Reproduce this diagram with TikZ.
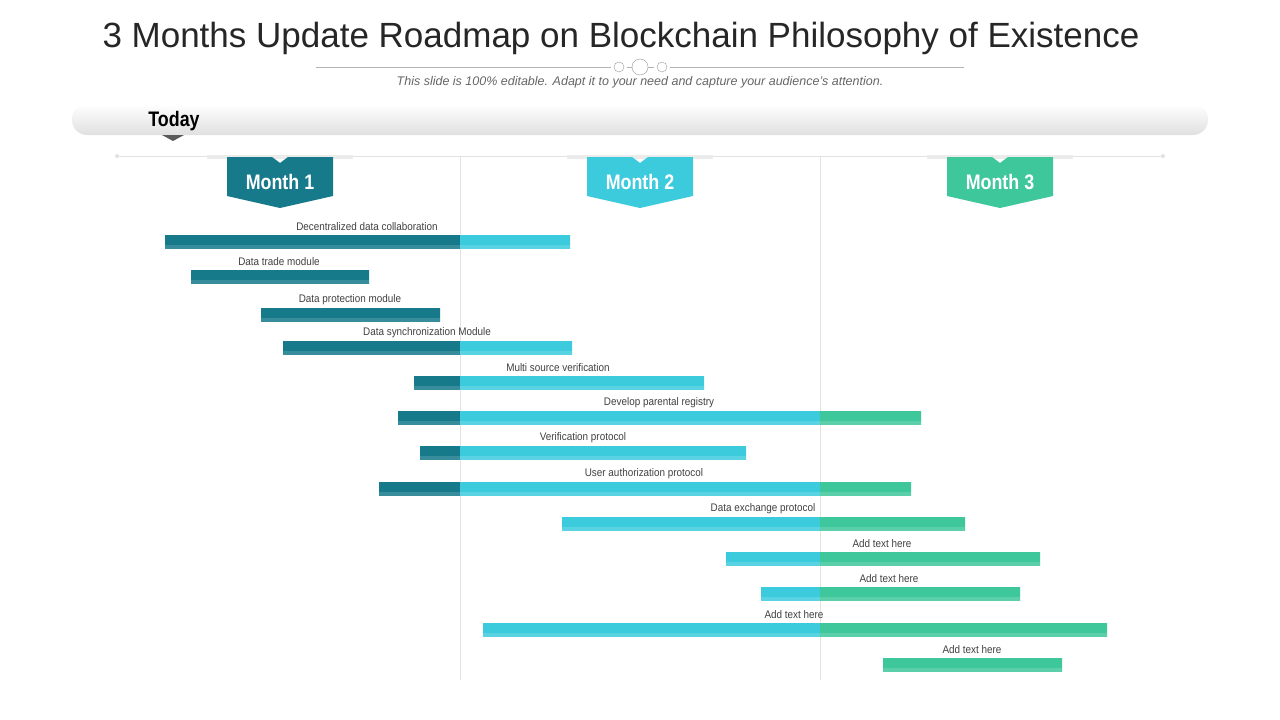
\documentclass[tikz,border=0pt]{standalone}
\usepackage{fontspec}
\setmainfont{Liberation Sans}
\definecolor{dk}{HTML}{167A8B}
\definecolor{cy}{HTML}{3CCBDD}
\definecolor{gr}{HTML}{3EC79A}
\definecolor{ln}{HTML}{E2E2E2}
\begin{document}
\begin{tikzpicture}[x=1pt,y=-1pt,
  lbl/.style={font=\fontsize{11}{12}\selectfont, text=black!75, inner sep=0pt},
  mtxt/.style={font=\bfseries\fontsize{21}{22}\selectfont, text=white, inner sep=0pt}]
\useasboundingbox (0,0) rectangle (1280,720);
\fill[white] (0,0) rectangle (1280,720);
\node[font=\fontsize{35}{40}\selectfont, text=black!85] (title) at (621,38) {3 Months Update Roadmap on Blockchain Philosophy of Existence};
\draw[black!30] (316,67) -- (611,67) (627,67) -- (632,67) (648,67) -- (654,67) (670,67) -- (964,67);
\draw[black!40] (619,67) circle (5) (640,67) circle (8) (662,67) circle (5);
\node[font=\itshape\fontsize{12.5}{14}\selectfont, text=black!60] (sub) at (640,82) {This slide is 100\% editable. Adapt it to your need and capture your audience’s attention.};
\shade[top color=white, bottom color=black!12, rounded corners=15pt] (72,104) rectangle (1208,135);
\node[font=\bfseries\fontsize{21}{22}\selectfont, xscale=0.85] (today) at (174,121) {Today};
\fill[black!65] (162,135) -- (184,135) -- (173,141) -- cycle;
\draw[ln] (117,156) -- (1163,156);
\fill[ln] (117,156) circle (2) (1163,156) circle (2);
\draw[ln] (460,156) -- (460,680) (820,156) -- (820,680);
\foreach \c/\col/\t in {280/dk/1,640/cy/2,1000/gr/3}{
  \fill[black!8] (\c-73,155) rectangle (\c+73,159);
  \fill[\col] (\c-53,157) -- (\c-8,157) -- (\c,163) -- (\c+8,157) -- (\c+53,157) -- (\c+53,196) -- (\c,208) -- (\c-53,196) -- cycle;
  \node[mtxt, xscale=0.85] (m\t) at (\c,182) {Month \t};
}
\foreach \y/\a/\b/\lx/\t in {
 242/165/570/367/Decentralized data collaboration,
 277/191/369/279/Data trade module,
 315/261/440/350/Data protection module,
 348/283/572/427/Data synchronization Module,
 383/414/704/558/Multi source verification,
 418/398/921/659/Develop parental registry,
 453/420/746/583/Verification protocol,
 489/379/911/644/User authorization protocol,
 524/562/965/763/Data exchange protocol,
 559/726/1040/882/Add text here,
 594/761/1020/889/Add text here,
 630/483/1107/794/Add text here,
 665/883/1062/972/Add text here}{
  \begin{scope}
  \clip (\a,\y-7) rectangle (\b,\y+7);
  \fill[dk] (0,\y-7) rectangle (460,\y+7);
  \fill[cy] (460,\y-7) rectangle (820,\y+7);
  \fill[gr] (820,\y-7) rectangle (1280,\y+7);
  \fill[white,opacity=0.15] (0,\y+3) rectangle (1280,\y+7);
  \end{scope}
  \node[lbl, xscale=0.9] at (\lx,\y-15) {\t};
}
\end{tikzpicture}
\end{document}
